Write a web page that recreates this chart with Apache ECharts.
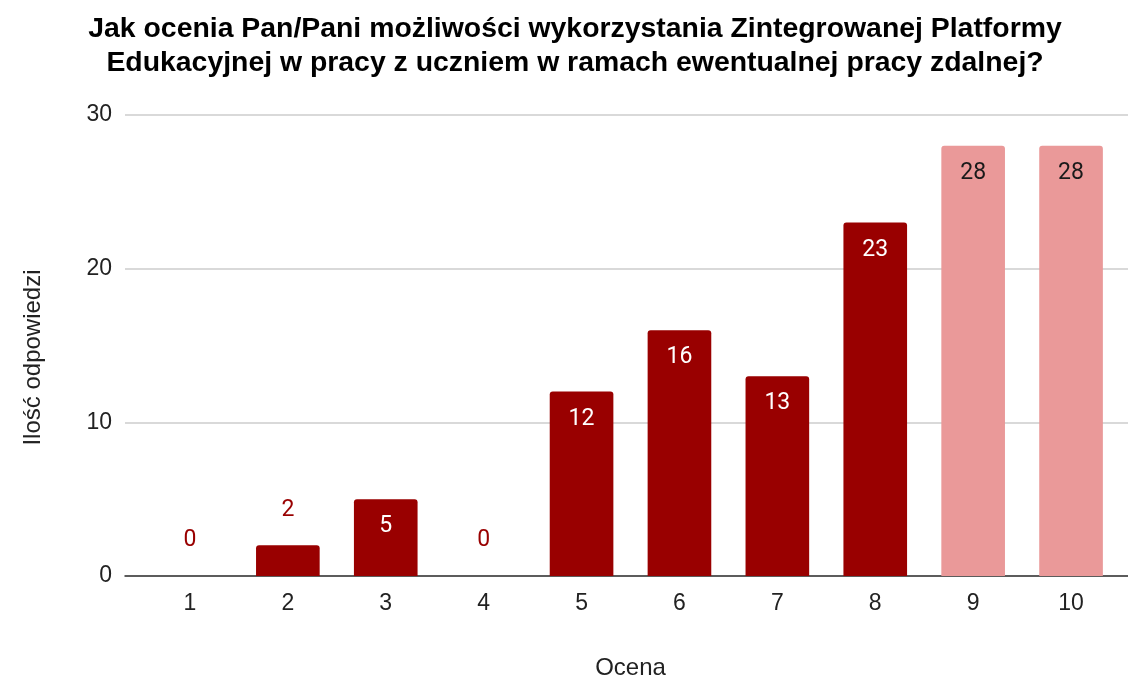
<!DOCTYPE html>
<html>
<head>
<meta charset="utf-8">
<script src="https://cdn.jsdelivr.net/npm/echarts@6/dist/echarts.min.js"></script>
<style>html,body{margin:0;padding:0;background:#fff}#c{width:1128px;height:676px}</style>
</head>
<body>
<div id="c"></div>
<script>
var titleLines = ['Jak ocenia Pan/Pani możliwości wykorzystania Zintegrowanej Platformy', 'Edukacyjnej w pracy z uczniem w ramach ewentualnej pracy zdalnej?'];
var categories = ['1', '2', '3', '4', '5', '6', '7', '8', '9', '10'];
var values = [0, 2, 5, 0, 12, 16, 13, 23, 28, 28];
var yTicks = [0, 10, 20, 30];
var xName = 'Ocena';
var yName = 'Ilość odpowiedzi';

var DARK = '#990000', LIGHT = '#ea9999';
var font = 'Arial, "Liberation Sans", sans-serif';
var labelFont = 'Roboto, Arial, sans-serif';
var FS = 23;
var data = values.map(function (v, i) {
  var light = i >= 8;
  var inside = v >= 4;
  return {
    value: v,
    itemStyle: { color: light ? LIGHT : DARK, borderRadius: [3, 3, 0, 0] },
    label: inside ? {
      show: true, position: 'insideTop', distance: 16,
      color: light ? '#1a1a1a' : '#ffffff', fontSize: FS, fontFamily: labelFont
    } : {
      show: true, position: 'top', distance: 24,
      color: DARK, fontSize: FS, fontFamily: labelFont
    }
  };
});

var chart = echarts.init(document.getElementById('c'), null, { renderer: 'canvas' });
chart.setOption({
  animation: false,
  title: {
    text: titleLines.join('\n'), left: 575, top: 12, padding: 0, textAlign: 'center',
    textStyle: { fontSize: 28.4, fontWeight: 'bold', color: '#000', fontFamily: font, lineHeight: 34 }
  },
  grid: [
    { left: 125, right: 0, top: 115, bottom: 100, containLabel: false, outerBoundsMode: 'none' },
    { left: 141, right: 8, top: 115, bottom: 100, containLabel: false, outerBoundsMode: 'none' }
  ],
  xAxis: [
    { gridIndex: 0, type: 'value', min: 0, max: 1,
      axisLine: { show: true, lineStyle: { color: '#333', width: 1.5 } },
      axisTick: { show: false }, axisLabel: { show: false }, splitLine: { show: false } },
    { gridIndex: 1, type: 'category', data: categories,
      axisLine: { show: false }, axisTick: { show: false },
      axisLabel: { fontSize: FS, color: '#222', margin: 16, fontFamily: font },
      name: xName, nameLocation: 'middle', nameGap: 80,
      nameTextStyle: { fontSize: 24, color: '#222', fontFamily: font } }
  ],
  yAxis: [
    { gridIndex: 0, type: 'value', min: yTicks[0], max: yTicks[yTicks.length - 1], interval: yTicks[1] - yTicks[0],
      axisLine: { show: false }, axisTick: { show: false },
      axisLabel: { fontSize: FS, color: '#222', margin: 13, fontFamily: font },
      splitLine: { lineStyle: { color: '#cccccc', width: 1.5 } },
      name: yName, nameLocation: 'middle', nameGap: 80, nameRotate: 90,
      nameTextStyle: { fontSize: 24, color: '#222', fontFamily: font, padding: [0, 24, 0, 0] } },
    { gridIndex: 1, type: 'value', min: yTicks[0], max: yTicks[yTicks.length - 1],
      show: false, splitLine: { show: false } }
  ],
  series: [{
    type: 'bar', xAxisIndex: 1, yAxisIndex: 1,
    data: data, barCategoryGap: '35%'
  }]
});
</script>
</body>
</html>
